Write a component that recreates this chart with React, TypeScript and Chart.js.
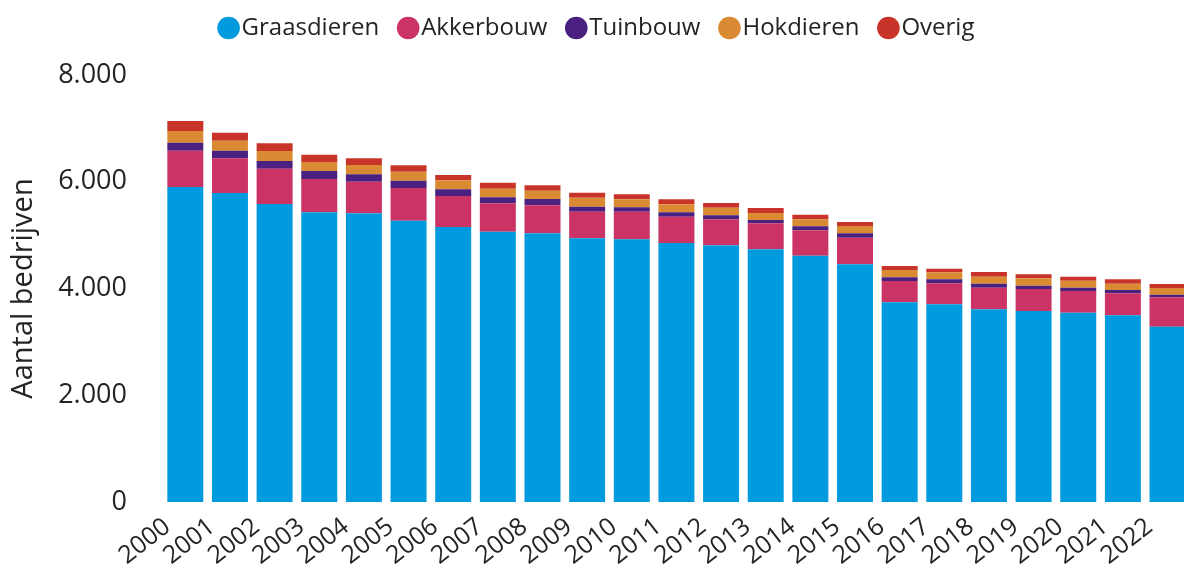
import React, { useEffect, useRef } from "react";
import { Chart, registerables } from "chart.js";

Chart.register(...registerables);

const years = ["2000","2001","2002","2003","2004","2005","2006","2007","2008","2009","2010","2011","2012","2013","2014","2015","2016","2017","2018","2019","2020","2021","2022"];
const graasdieren = [5901,5789,5583,5427,5408,5270,5152,5064,5034,4940,4921,4852,4809,4734,4614,4453,3741,3704,3610,3578,3546,3498,3284];
const akkerbouw = [680,650,661,624,592,613,581,532,525,498,517,493,487,487,476,498,399,393,405,412,407,412,551];
const tuinbouw = [150,142,144,150,139,137,126,112,118,94,82,82,75,62,75,82,69,75,75,62,62,62,49];
const hokdieren = [219,187,187,169,174,169,169,161,155,169,150,150,142,131,131,137,137,131,131,139,131,118,126];
const overig = [187,150,144,137,126,120,100,112,101,94,94,94,88,94,86,75,75,67,88,75,75,82,75];
const yTicks = [0, 2000, 4000, 6000, 8000];

const FONT = "'Open Sans', 'Noto Sans', sans-serif";
const TEXT = "#252423";

function fmt(v: number): string {
  return String(v).replace(/\B(?=(\d{3})+(?!\d))/g, ".");
}

const legendHeightPlugin = {
  id: "legendHeight",
  beforeLayout(chart: any) {
    const lg = chart.legend;
    if (lg && !lg.__patched) {
      const orig = lg.fit.bind(lg);
      lg.fit = function () {
        orig();
        this.height = 87;
      };
      lg.__patched = true;
    }
  },
};

export default function App() {
  const ref = useRef<HTMLCanvasElement | null>(null);
  useEffect(() => {
    document.body.style.margin = "0";
    document.body.style.overflow = "hidden";
    const canvas = ref.current;
    if (!canvas) return;
    const chart = new Chart(canvas, {
      type: "bar",
      data: {
        labels: years,
        datasets: [
          { label: "Graasdieren", data: graasdieren, backgroundColor: "#009BDE" },
          { label: "Akkerbouw", data: akkerbouw, backgroundColor: "#CA3363" },
          { label: "Tuinbouw", data: tuinbouw, backgroundColor: "#4A2180" },
          { label: "Hokdieren", data: hokdieren, backgroundColor: "#DA8A33" },
          { label: "Overig", data: overig, backgroundColor: "#C8342A" },
        ],
      },
      plugins: [legendHeightPlugin],
      options: {
        responsive: false,
        animation: false,
        layout: { padding: { left: 6, right: 0, top: -12, bottom: 0 } },
        datasets: { bar: { categoryPercentage: 1, barPercentage: 0.806 } },
        plugins: {
          tooltip: { enabled: false },
          legend: {
            position: "top",
            align: "center",
            labels: {
              usePointStyle: true,
              pointStyle: "circle",
              boxWidth: 2,
              boxHeight: 16,
              padding: 28,
              color: TEXT,
              font: { family: FONT, size: 24 },
            },
          },
        },
        scales: {
          x: {
            stacked: true,
            grid: { display: false, drawTicks: false },
            border: { display: false },
            ticks: {
              color: TEXT,
              font: { family: FONT, size: 25 },
              minRotation: 38,
              maxRotation: 38,
              autoSkip: false,
              padding: 10,
              labelOffset: -18,
            },
            afterFit: (s: any) => { s.height = 68; },
          },
          y: {
            stacked: true,
            min: 0,
            max: 8000,
            grid: { display: false, drawTicks: false },
            border: { display: false },
            afterBuildTicks: (s: any) => { s.ticks = yTicks.map((v) => ({ value: v })); },
            ticks: {
              color: TEXT,
              font: { family: FONT, size: 27 },
              padding: 36,
              callback: (v: any) => fmt(Number(v)),
            },
            title: {
              display: true,
              text: "Aantal bedrijven",
              color: TEXT,
              font: { family: FONT, size: 29 },
              padding: { top: 0, bottom: 4 },
            },
            afterFit: (s: any) => { s.width = 157; },
          },
        },
      },
    });
    return () => chart.destroy();
  }, []);
  return (
    <div style={{ width: 1184, height: 570, overflow: "hidden" }}>
      <canvas ref={ref} width={1196} height={570} />
    </div>
  );
}
